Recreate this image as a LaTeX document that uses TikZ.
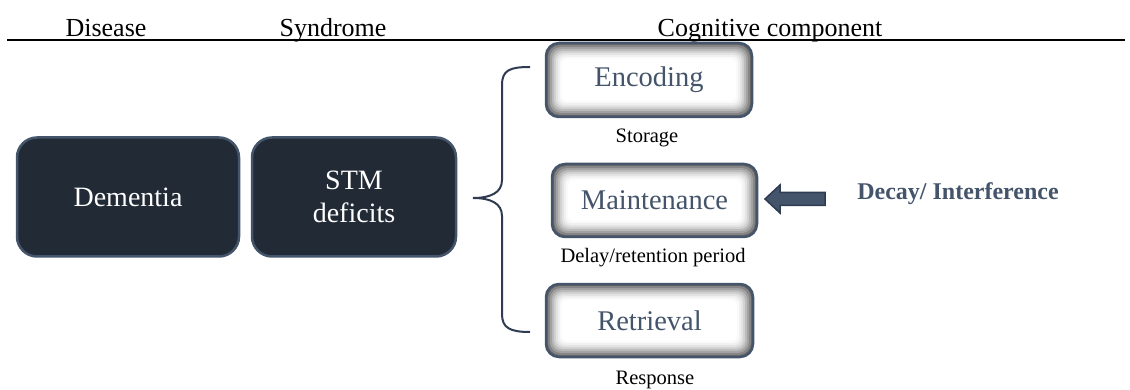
\documentclass[tikz,border=0pt]{standalone}
\usepackage{fontspec}
\setmainfont{Liberation Serif}
\usetikzlibrary{calc}
\definecolor{slate}{HTML}{44546A}
\definecolor{darkfill}{HTML}{222A35}
\definecolor{bracecol}{HTML}{2F3B50}
\tikzset{
  hdr/.style={anchor=base, font=\fontsize{26}{30}\selectfont},
  darkbox/.style={draw=slate, line width=2.5pt, fill=darkfill, rounded corners=20pt,
    text=white, align=center, font=\fontsize{28}{33}\selectfont},
  cogbox/.style={draw=slate, line width=2.5pt, rounded corners=13pt,
    text=slate, font=\fontsize{28.5}{33}\selectfont,
    path picture={
      \foreach \i/\c in {0/60,2/48,4/37,6/27,8/18,10/11,12/6,14/2,16/0}{
        \pgfmathsetmacro{\rr}{13-0.5*\i}
        \fill[black!\c, rounded corners=\rr pt]
          ($(path picture bounding box.south west)+(\i pt,\i pt)$) rectangle
          ($(path picture bounding box.north east)+(-\i pt,-\i pt)$);
      }
    }},
  sublabel/.style={font=\fontsize{20.5}{24}\selectfont},
}
\begin{document}
\begin{tikzpicture}[x=1pt,y=-1pt]
\useasboundingbox (0,0) rectangle (1130,390);
% headers
\node[hdr] (hdis) at (106,37) {Disease};
\node[hdr] (hsyn) at (333,37) {Syndrome};
\node[hdr] (hcog) at (770,37) {Cognitive component};
\coordinate (hl) at (7,40);
\coordinate (hr) at (1125,40);
\draw[line width=1.2pt] (hl) -- (hr);
% dark boxes
\node[darkbox, minimum width=222pt, minimum height=119pt] (dem) at (128,197) {Dementia};
\node[darkbox, minimum width=204pt, minimum height=119pt] (stm) at (354,197) {STM\\deficits};
% cognitive boxes
\node[cogbox, minimum width=206pt, minimum height=74pt] (enc) at (649,80) {Encoding};
\node[cogbox, minimum width=205pt, minimum height=73pt] (mai) at (654.5,200.5) {Maintenance};
\node[cogbox, minimum width=207pt, minimum height=73pt] (ret) at (649.5,320.5) {Retrieval};
% labels
\node[sublabel] (sto) at (647,138) {Storage};
\node[sublabel] (del) at (653,258) {Delay/retention period};
\node[sublabel] (res) at (655,380) {Response};
% brace
\coordinate (bt) at (530,67);
\coordinate (bm) at (473,198);
\coordinate (bb) at (530,332);
\draw[bracecol, line width=2pt]
  (bt) .. controls (510,67) and (502,70) .. (502,85) -- (502,180)
  .. controls (502,193) and (490,198) .. (bm)
  .. controls (490,198) and (502,203) .. (502,216) -- (502,314)
  .. controls (502,328) and (510,332) .. (bb);
% arrow
\coordinate (tip) at (765,199);
\draw[fill=slate, draw=bracecol, line width=1.5pt, line join=miter]
  (tip) -- ++(15,-14) -- ++(0,7.5) -- ++(45,0) -- ++(0,13) -- ++(-45,0) -- ++(0,7.5) -- cycle;
\node[font=\fontsize{24}{28}\selectfont\bfseries, text=slate] (dec) at (958,194) {Decay/ Interference};
\end{tikzpicture}
\end{document}
